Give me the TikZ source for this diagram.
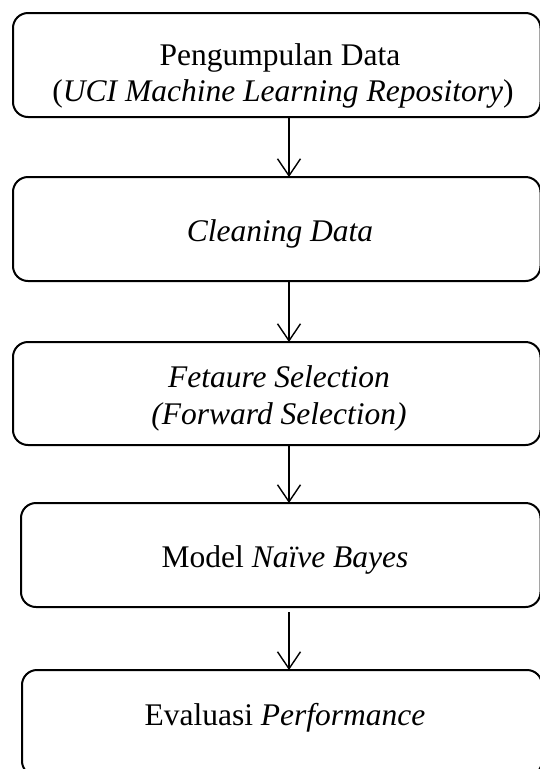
\documentclass[tikz,border=0pt]{standalone}
\usepackage{fontspec}
\setmainfont{Liberation Serif}
\usetikzlibrary{arrows.meta}
\begin{document}
\begin{tikzpicture}[x=1pt,y=-1pt,
  box/.style={draw=black, line width=2pt, rounded corners=15pt, rectangle, inner sep=0pt, outer sep=0pt},
  lbl/.style={anchor=base, inner sep=0pt, font=\fontsize{31.5}{36}\selectfont},
  arr/.style={line width=1.4pt, -{Straight Barb[length=17pt,width=23pt]}}]
\useasboundingbox (0,0) rectangle (540,769);
\clip (0,0) rectangle (540,769);
\coordinate (ax) at (289,0);
\node[box, minimum width=527.5pt, minimum height=104pt] (b1) at (276.75,65) {};
\node[box, minimum width=527.5pt, minimum height=104pt] (b2) at (276.75,229) {};
\node[box, minimum width=527.5pt, minimum height=103pt] (b3) at (276.75,393.5) {};
\node[box, minimum width=519.5pt, minimum height=104pt] (b4) at (280.75,555) {};
\node[box, minimum width=520pt, minimum height=106pt] (b5) at (282,723) {};
\node[lbl] (t1a) at (280,65) {Pengumpulan Data};
\node[lbl] (t1b) at (283,101) {(\textit{UCI Machine Learning Repository})};
\node[lbl] (t2) at (280,241) {\textit{Cleaning Data}};
\node[lbl] (t3a) at (279,387) {\textit{Fetaure Selection}};
\node[lbl] (t3b) at (279,424) {\textit{(Forward Selection)}};
\node[lbl] (t4) at (285,567) {Model \textit{Naïve Bayes}};
\node[lbl] (t5) at (285,725) {Evaluasi \textit{Performance}};
\draw[arr] (b1.south -| ax) -- (b2.north -| ax);
\draw[arr] (b2.south -| ax) -- (b3.north -| ax);
\draw[arr] (b3.south -| ax) -- (b4.north -| ax);
\draw[arr, shorten <=5pt] (b4.south -| ax) -- (b5.north -| ax);
\end{tikzpicture}
\end{document}
